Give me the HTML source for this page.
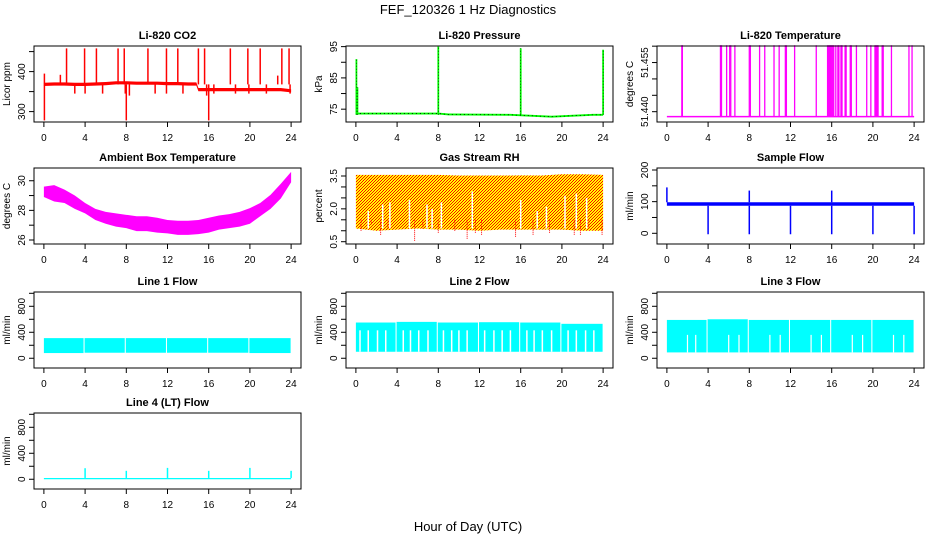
<!DOCTYPE html>
<html><head><meta charset="utf-8">
<style>
body{margin:0;background:#fff;}
svg{display:block;font-family:"Liberation Sans",sans-serif;}
</style></head>
<body>
<svg id="c" width="936" height="540" viewBox="0 0 936 540">
<defs>
<pattern id="rhpat" width="3" height="3" patternUnits="userSpaceOnUse">
<rect width="3" height="3" fill="#FFFF00"/>
<rect x="0" y="0" width="1" height="1" fill="#FF0000"/>
<rect x="2" y="1" width="1" height="1" fill="#FF0000"/>
<rect x="1" y="2" width="1" height="1" fill="#FF0000"/>
</pattern>
</defs>
<text x="468" y="14" text-anchor="middle" font-size="13">FEF_120326  1 Hz Diagnostics</text>
<text x="468" y="531" text-anchor="middle" font-size="13">Hour of Day (UTC)</text>
</svg>
<script>
// ---- data ----
const xTicks=[0,4,8,12,16,20,24];
// CO2
const co2Hours=[0,1,2,3,4,5,6,7,8,9,10,11,12,13,14,14.8,15,16,17,18,19,20,21,22,23,24];
const co2Base=[368,369,369,368,368,369,370,372,372,371,371,371,370,370,369,369,355,355,355,355,355,355,355,355,355,352];
const co2Spikes=[[0.05,278],[0.05,395],[1.6,392],[2.2,458],[3.0,345],[3.95,458],[4.0,345],[5.1,458],[5.7,345],[7.2,458],[7.8,458],[7.9,345],[8.0,278],[8.3,340],[10.1,458],[10.8,345],[11.9,458],[11.9,345],[13.0,458],[13.5,345],[15.0,458],[15.6,458],[15.8,340],[16.0,278],[16.5,345],[18.1,458],[18.6,345],[19.8,458],[19.9,345],[21.0,458],[21.6,345],[22.7,390],[23.1,458],[23.8,458],[23.9,345]];
const co2Ticks=[300,350,400,450], co2Labels=[300,400];
// Pressure
const presHours=[0,8,9,15,19,23,24];
const presBase=[73.6,73.6,73.3,73.2,72.6,73.2,73.2];
const presSpikes=[[0.05,91],[0.15,82],[8.0,95],[16.0,94.5],[24.0,94]];
const presTicks=[75,80,85,90,95], presLabels=[75,85,95];
// Li-820 temperature
const tempBase=51.4385;
const tempSpikeHours=[1.45,1.5,5.2,5.3,5.8,6.1,6.2,6.6,8.0,8.1,9.0,9.5,10.4,10.9,11.5,11.6,12.4,14.5,15.6,15.7,15.8,15.9,16.0,16.1,16.2,16.4,16.6,16.7,16.9,17.0,17.3,17.4,17.8,17.9,18.4,19.4,19.8,20.2,20.3,20.4,20.5,20.9,21.0,21.8,23.5,23.8];
const tempSpikeTop=51.4603;
const tempTicks=[51.440,51.445,51.450,51.455,51.460], tempLabels=["51.440","51.455"];
// Ambient
const ambHours=[0,1,2,3,4,5,6,7,8,9,10,11,12,13,14,15,16,17,18,19,20,21,22,23,24];
const ambHigh=[29.6,29.7,29.4,29.0,28.5,28.1,27.9,27.8,27.7,27.6,27.6,27.5,27.35,27.3,27.3,27.35,27.5,27.65,27.75,27.9,28.15,28.5,29.05,29.8,30.6];
const ambLow=[28.9,28.6,28.5,28.1,27.8,27.35,27.1,26.9,26.8,26.6,26.6,26.5,26.45,26.35,26.35,26.4,26.5,26.7,26.8,26.9,27.1,27.6,28.1,28.8,29.9];
const ambTicks=[26,27,28,29,30], ambLabels=[26,28,30];
// RH
const rhHours=[0,2,4,6,8,10,12,14,16,18,20,22,24];
const rhHigh=[3.55,3.55,3.55,3.55,3.55,3.52,3.52,3.52,3.53,3.52,3.58,3.58,3.55];
const rhLow=[1.1,1.0,1.05,1.1,1.05,1.05,1.0,1.05,1.05,1.05,1.05,1.0,1.0];
const rhDips=[[0.5,1.0],[1.5,1.3],[2.4,0.8],[3.1,1.1],[5.7,0.5],[6.5,1.1],[8.0,0.9],[9.6,1.0],[10.8,0.6],[11.6,0.9],[12.2,0.8],[15.5,0.7],[17.2,0.8],[18.8,0.9],[21.2,0.8],[21.8,0.8],[22.6,1.1],[23.9,0.8]];
const rhGaps=[[1.2,1.9],[2.6,2.2],[3.3,2.3],[5.2,2.4],[6.9,2.2],[7.4,2.0],[8.3,2.3],[11.3,2.8],[16.0,2.4],[17.6,1.9],[18.5,2.1],[20.3,2.6],[21.4,2.7],[22.4,2.5]];
const rhTicks=[0.5,1.0,1.5,2.0,2.5,3.0,3.5], rhLabels=["0.5","2.0","3.5"];
// Sample flow
const sfBaseLow=87, sfBaseHigh=98;
const sfDips=[[4.0,-3],[8.0,-3],[12.0,-3],[16.0,-3],[20.0,-3],[24.0,-3]];
const sfSpikes=[[0.0,145],[8.0,135],[16.0,135]];
const sfTicks=[0,50,100,150,200], sfLabels=[0,100,200];
// Line flows
const flowTicks=[-200,0,200,400,600,800,1000], flowLabels=[0,400,800];
const flowSegStart=[0.0,3.95,7.95,11.95,15.95,19.95];
const flowSegEnd=[3.85,7.85,11.85,15.85,19.85,23.95];
const line1Low=[80,85,85,85,85,80], line1High=[310,310,310,310,310,310];
const line2Low=[100,100,100,100,100,100], line2High=[550,560,550,555,550,530];
const line2GapHours=[0.4,1.2,2.1,2.9,4.6,5.3,6.1,7.0,8.5,9.3,10.0,10.8,12.5,13.4,14.2,15.0,16.6,17.3,18.1,19.0,20.6,21.4,22.3,23.1];
const line2GapTop=430;
const line3Low=[90,90,90,90,90,90], line3High=[590,600,590,590,590,590];
const line3GapHours=[2.0,2.8,6.0,7.0,10.0,11.0,14.0,15.0,18.0,19.0,22.0,23.0];
const line3GapTop=360;
const line4Base=[0,20];
const line4Spikes=[[4.0,170],[8.0,130],[12.0,175],[16.0,130],[20.0,175],[24.0,130]];
const flowYlim=[-150,1020];

const NS="http://www.w3.org/2000/svg";
const svg=document.getElementById('c');
function mk(t,a,p){const e=document.createElementNS(NS,t);for(const k in a)e.setAttribute(k,a[k]);(p||svg).appendChild(e);return e;}
const colX=[34,346,657], rowY=[46,168,292,413], W=267, H=76;
const XMIN=-0.96, XMAX=24.96;

function panel(col,row,title,ylab,ymin,ymax,ticks,labels,name){
  const g=mk('g',{});
  
  
  const L=colX[col],T=rowY[row];
  const sx=v=>L+(v-XMIN)/(XMAX-XMIN)*W;
  const sy=v=>T+H-(v-ymin)/(ymax-ymin)*H;
  const plot=mk('g',{},g);
  
  
  const frame=mk('rect',{x:L,y:T,width:W,height:H,fill:'none',stroke:'#000','stroke-width':1},g);
  
  
  const t=mk('text',{x:L+W/2,y:T-7,'text-anchor':'middle','font-size':11,'font-weight':'bold'},g);
  t.textContent=title;
  
  
  const xa=mk('g',{},g);
  
  
  mk('line',{x1:sx(xTicks[0]),x2:sx(xTicks[xTicks.length-1]),y1:T+H,y2:T+H,stroke:'#000'},xa);
  xTicks.forEach(v=>{
    mk('line',{x1:sx(v),x2:sx(v),y1:T+H,y2:T+H+5,stroke:'#000'},xa);
    const tx=mk('text',{x:sx(v),y:T+H+19,'text-anchor':'middle','font-size':10},xa);
    tx.textContent=v;
    
    
  });
  const ya=mk('g',{},g);
  
  
  const ty=ticks.map(sy).map(v=>Math.max(T,Math.min(T+H,v)));
  mk('line',{x1:L,x2:L,y1:Math.min(...ty),y2:Math.max(...ty),stroke:'#000'},ya);
  ticks.forEach(v=>{const y=sy(v);if(y<T-1||y>T+H+1)return;mk('line',{x1:L-5,x2:L,y1:y,y2:y,stroke:'#000'},ya);});
  labels.forEach(v=>{
    const y=sy(+v);
    const tx=mk('text',{x:0,y:0,'text-anchor':'middle','font-size':10,transform:`translate(${L-9},${y}) rotate(-90)`},ya);
    tx.textContent=v;
    
    
  });
  const yl=mk('text',{x:0,y:0,'text-anchor':'middle','font-size':10,transform:`translate(${L-24},${T+H/2}) rotate(-90)`},g);
  yl.textContent=ylab;
  
  
  return {sx,sy,plot};
}
function vline(p,x,y1,y2,c,w,nm){const e=mk('line',{x1:x,x2:x,y1:y1,y2:y2,stroke:c,'stroke-width':w||1},p.plot);
  
  return e;}
function band(p,xs,lo,hi,fill,nm){
  let d='M'+xs.map((h,i)=>p.sx(h)+','+p.sy(hi[i])).join('L');
  d+='L'+xs.map((h,i)=>p.sx(h)+','+p.sy(lo[i])).reverse().join('L')+'Z';
  const e=mk('path',{d:d,fill:fill,stroke:'none'},p.plot);
  
  return e;}

// CO2
let p=panel(0,0,'Li-820 CO2','Licor ppm',274,464,co2Ticks,co2Labels,'co2');
band(p,co2Hours,co2Base.map(v=>v-4),co2Base.map(v=>v+4),'#FF0000','co2-series');
co2Spikes.forEach(s=>vline(p,p.sx(s[0]),p.sy(co2Base[0]),p.sy(s[1]),'#FF0000',1.5,'co2-spike'));
// Pressure
p=panel(1,0,'Li-820 Pressure','kPa',70.9,95.2,presTicks,presLabels,'pressure');
band(p,presHours,presBase.map(v=>v-0.3),presBase.map(v=>v+0.3),'#00FF00','pressure-series');
mk('path',{d:'M'+presHours.map((h,i)=>p.sx(h)+','+p.sy(presBase[i])).join('L'),fill:'none',stroke:'#000','stroke-width':0.8,'stroke-dasharray':'1,3'},p.plot);
presSpikes.forEach(s=>{vline(p,p.sx(s[0]),p.sy(73.2),p.sy(s[1]),'#00FF00',1.8,'pressure-spike');vline(p,p.sx(s[0]),p.sy(73.2),p.sy(s[1]),'#000',0.6,'pressure-spike-dots').setAttribute('stroke-dasharray','1,2');});
// Li-820 Temperature
p=panel(2,0,'Li-820 Temperature','degrees C',51.43685,51.46005,tempTicks,tempLabels,'li820-temp');
const tb=mk('line',{x1:p.sx(0),x2:p.sx(24),y1:p.sy(tempBase),y2:p.sy(tempBase),stroke:'#FF00FF','stroke-width':1.5},p.plot);


tempSpikeHours.forEach(h=>vline(p,p.sx(h),p.sy(tempBase),p.sy(tempSpikeTop),'#FF00FF',1.3,'li820-temp-spike'));
// Ambient
p=panel(0,1,'Ambient Box Temperature','degrees C',25.73,30.86,ambTicks,ambLabels,'ambient-temp');
band(p,ambHours,ambLow,ambHigh,'#FF00FF','ambient-temp-series');
// RH
p=panel(1,1,'Gas Stream RH','percent',0.395,3.865,rhTicks,rhLabels,'gas-rh');
band(p,rhHours,rhLow,rhHigh,'url(#rhpat)','gas-rh-series');
rhGaps.forEach(s=>vline(p,p.sx(s[0]),p.sy(rhLow[0]),p.sy(s[1]),'#FFFFFF',1.5,'gas-rh-gap'));
rhDips.forEach(s=>vline(p,p.sx(s[0]),p.sy(1.5),p.sy(s[1]),'#FF0000',1,'gas-rh-dip').setAttribute('stroke-dasharray','1,1'));
// Sample flow
p=panel(2,1,'Sample Flow','ml/min',-33.8,206.3,sfTicks,sfLabels,'sample-flow');
band(p,[0,24],[sfBaseLow,sfBaseLow],[sfBaseHigh,sfBaseHigh],'#0000FF','sample-flow-series');
sfDips.forEach(s=>vline(p,p.sx(s[0]),p.sy(sfBaseLow),p.sy(s[1]),'#0000FF',1.5,'sample-flow-dip'));
sfSpikes.forEach(s=>vline(p,p.sx(s[0]),p.sy(sfBaseHigh),p.sy(s[1]),'#0000FF',1.5,'sample-flow-spike'));
// Line flows
function flowPanel(col,row,title,lo,hi,name){
  const q=panel(col,row,title,'ml/min',flowYlim[0],flowYlim[1],flowTicks,flowLabels,name);
  flowSegStart.forEach((s,i)=>{
    const e=mk('rect',{x:q.sx(s),y:q.sy(hi[i]),width:q.sx(flowSegEnd[i])-q.sx(s),height:q.sy(lo[i])-q.sy(hi[i]),fill:'#00FFFF'},q.plot);
    
    
  });
  return q;
}
flowPanel(0,2,'Line 1 Flow',line1Low,line1High,'line1-flow');
p=flowPanel(1,2,'Line 2 Flow',line2Low,line2High,'line2-flow');
line2GapHours.forEach(h=>vline(p,p.sx(h),p.sy(line2Low[0]),p.sy(line2GapTop),'#FFFFFF',1.5,'line2-flow-gap'));
p=flowPanel(2,2,'Line 3 Flow',line3Low,line3High,'line3-flow');
line3GapHours.forEach(h=>vline(p,p.sx(h),p.sy(line3Low[0]),p.sy(line3GapTop),'#FFFFFF',1.2,'line3-flow-gap'));
p=panel(0,3,'Line 4 (LT) Flow','ml/min',flowYlim[0],flowYlim[1],flowTicks,flowLabels,'line4-flow');
band(p,[0,24],[line4Base[0],line4Base[0]],[line4Base[1],line4Base[1]],'#00FFFF','line4-flow-series');
line4Spikes.forEach(s=>vline(p,p.sx(s[0]),p.sy(line4Base[1]),p.sy(s[1]),'#00FFFF',1.5,'line4-flow-spike'));
</script>
</body></html>
